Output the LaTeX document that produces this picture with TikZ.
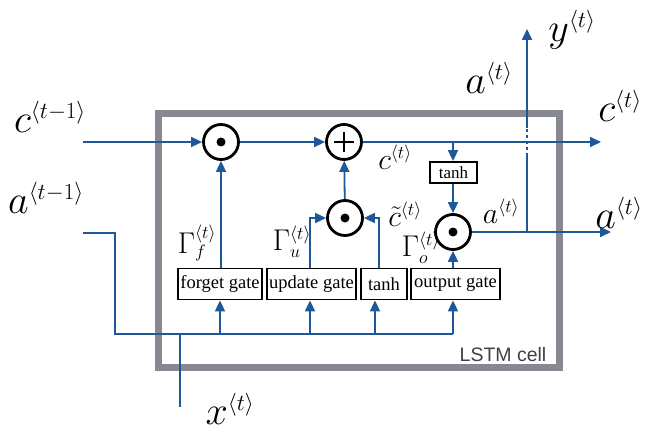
\documentclass[tikz,border=0pt]{standalone}
\usepackage{fix-cm}
\usepackage{fontspec}
\setmainfont{Liberation Serif}
\setsansfont{Liberation Sans}
\usetikzlibrary{arrows.meta}
\DeclareMathSizes{40}{40}{23}{16}
\DeclareMathSizes{30}{30}{18}{13}
\definecolor{lblue}{RGB}{30,88,155}
\definecolor{frameg}{RGB}{135,137,145}
\tikzset{
  flow/.style={draw=lblue, line width=1.8pt},
  arr/.style={flow, -{Triangle[length=11pt,width=10pt]}},
  opcirc/.style={circle, draw=black, line width=2.8pt, minimum size=35pt, inner sep=0pt},
  gatebox/.style={draw=black, line width=1.8pt, inner sep=0pt, minimum height=31pt, font=\fontsize{18.5}{18.5}\selectfont},
  biglab/.style={inner sep=0pt, font=\fontsize{40}{40}\selectfont},
  midlab/.style={inner sep=0pt, font=\fontsize{30}{30}\selectfont},
}
\begin{document}
\begin{tikzpicture}[x=1pt,y=-1pt]
\useasboundingbox (0,0) rectangle (645,436);
% cell frame
\draw[frameg, line width=7pt] (158,113.5) rectangle (559.5,367.5);
\node[inner sep=0pt, font=\sffamily\fontsize{19.5}{19.5}\selectfont, text=black!75] (cell) at (503,355) {LSTM cell};
% operators
\node[opcirc] (o1) at (221,142) {};
\node[opcirc] (pl) at (344,142) {};
\node[opcirc] (o2) at (345,218) {};
\node[opcirc] (o3) at (453,232) {};
\fill (o1.center) circle (4.5pt);
\fill (o2.center) circle (4.5pt);
\fill (o3.center) circle (4.5pt);
\draw[line width=2pt] ([xshift=-10pt]pl.center) -- ([xshift=10pt]pl.center);
\draw[line width=2pt] ([yshift=-10pt]pl.center) -- ([yshift=10pt]pl.center);
% boxes
\node[gatebox, minimum width=84pt] (fg) at (220,284) {forget gate};
\node[gatebox, minimum width=89pt] (ug) at (311.5,284) {update gate};
\node[gatebox, minimum width=46pt] (th2) at (384,284) {tanh};
\node[gatebox, minimum width=89pt] (og) at (455.5,284) {output gate};
\node[gatebox, minimum width=47pt, minimum height=21pt, font=\fontsize{17}{17}\selectfont] (th1) at (453.5,172.5) {tanh};
% coordinates
\coordinate (cin) at (83,142);
\coordinate (cout) at (601,142);
\coordinate (tap) at (453,142);
\coordinate (uu) at (310,218);
\coordinate (tt) at (379,218);
\coordinate (aout) at (611,232);
\coordinate (vb) at (527,232);
\coordinate (v1) at (527,156);
\coordinate (v2) at (527,128);
\coordinate (vt) at (527,29);
\coordinate (ain) at (83,233);
\coordinate (b1) at (115,233);
\coordinate (b2) at (115,334);
\coordinate (b3) at (453,334);
\coordinate (tb) at (375,334);
\coordinate (xin) at (180,407);
% cell state line
\draw[arr] (cin) -- (o1);
\draw[arr] (o1) -- (pl);
\draw[arr] (pl) -- (cout);
\draw[arr] (tap) -- (tap |- th1.north);
\draw[arr] (th1.south -| o3) -- (o3);
% gates to operators
\draw[arr] (fg.north -| o1) -- (o1);
\draw[arr] (ug.north -| uu) -- (uu) -- (o2);
\draw[arr] (th2.north -| tt) -- (tt) -- (o2);
\draw[arr] (o2) -- (pl);
\draw[arr] (og.north -| o3) -- (o3);
% hidden output
\draw[arr] (o3) -- (aout);
\draw[flow] (vb) -- (v1);
\draw[flow, dash pattern=on 3pt off 3pt] (v1) -- (v2);
\draw[arr] (v2) -- (vt);
% inputs bus
\draw[flow] (ain) -- (b1) -- (b2) -- (b3);
\draw[arr] (b2 -| fg) -- (fg.south);
\draw[arr] (b2 -| uu) -- (uu |- ug.south);
\draw[arr] (tb) -- (tb |- th2.south);
\draw[arr] (b3) -- (og.south -| b3);
\draw[flow] (xin) -- (xin |- b2);
% labels
\node[biglab] (lcin) at (50,117) {$c^{\langle t-1\rangle}$};
\node[biglab] (lain) at (46,198) {$a^{\langle t-1\rangle}$};
\node[biglab] (lat) at (489,78) {$a^{\langle t\rangle}$};
\node[biglab] (lyt) at (572,30) {$y^{\langle t\rangle}$};
\node[biglab] (lct) at (620,106) {$c^{\langle t\rangle}$};
\node[biglab] (lar) at (619,213) {$a^{\langle t\rangle}$};
\node[biglab] (lxt) at (230,409) {$x^{\langle t\rangle}$};
\node[midlab] (lcm) at (395,157) {$c^{\langle t\rangle}$};
\node[midlab] (lam) at (501,211) {$a^{\langle t\rangle}$};
\node[midlab] (lct2) at (405,214) {$\tilde{c}^{\langle t\rangle}$};
\node[midlab] (lgf) at (197,243) {$\Gamma_f^{\langle t\rangle}$};
\node[midlab] (lgu) at (292,242) {$\Gamma_u^{\langle t\rangle}$};
\node[midlab] (lgo) at (421,248) {$\Gamma_o^{\langle t\rangle}$};
\end{tikzpicture}
\end{document}
